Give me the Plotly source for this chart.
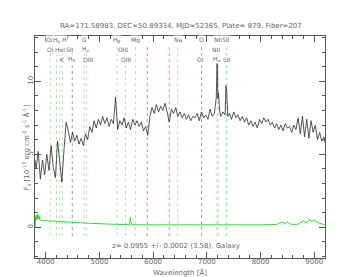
import plotly.graph_objects as go

# ---------------- data ----------------
title_text = "RA=171.58983, DEC=50.89334, MJD=52365, Plate= 879, Fiber=207"
z_text = "z= 0.0955 +/- 0.0002 (3.58), Galaxy"
redshift = 0.0955

wave = [3800, 3820, 3860, 3900, 3940, 3980, 4020, 4060, 4100, 4140, 4180, 4220, 4260, 4300,
        4340, 4380, 4420, 4460, 4500, 4540, 4580, 4620, 4660, 4700, 4740, 4780, 4820, 4860,
        4900, 4940, 4980, 5020, 5060, 5100, 5140, 5180, 5220, 5260, 5300, 5340, 5380, 5420,
        5460, 5500, 5540, 5580, 5620, 5660, 5700, 5740, 5780, 5820, 5860, 5900, 5940, 5980,
        6020, 6060, 6100, 6140, 6180, 6220, 6260, 6300, 6340, 6380, 6420, 6460, 6500, 6540,
        6580, 6620, 6660, 6700, 6740, 6780, 6820, 6860, 6900, 6940, 6980, 7020, 7060, 7100,
        7140, 7160, 7176, 7192, 7206, 7216, 7240, 7260, 7300, 7340, 7356, 7372, 7390, 7420,
        7460, 7500, 7540, 7580, 7620, 7660, 7700, 7740, 7780, 7820, 7860, 7900, 7940, 7980,
        8020, 8060, 8100, 8140, 8180, 8220, 8260, 8300, 8340, 8380, 8420, 8460, 8500, 8540,
        8580, 8620, 8660, 8700, 8740, 8780, 8820, 8860, 8900, 8940, 8980, 9020, 9060, 9100,
        9140, 9180, 9200]
flux = [4.6, 4.0, 5.2, 3.3, 4.6, 3.6, 5.0, 3.9, 5.6, 4.1, 3.4, 5.9, 4.5, 3.1,
        5.3, 7.2, 6.6, 5.8, 6.5, 5.9, 6.3, 5.7, 6.1, 5.6, 6.4, 6.0, 6.9, 6.5,
        7.3, 6.8, 7.4, 7.0, 7.6, 7.1, 7.5, 6.9, 7.4, 7.1, 8.9, 6.7, 7.3, 7.0,
        7.5, 6.8, 7.2, 6.7, 7.4, 7.0, 7.3, 6.9, 7.2, 6.6, 6.9, 6.3, 7.6, 8.2,
        7.8, 8.4, 7.9, 8.3, 8.0, 8.5, 7.9, 7.2, 8.1, 7.8, 8.2, 7.6, 7.9, 7.5,
        7.8, 7.4, 7.7, 7.3, 7.6, 7.5, 7.8, 7.3, 7.9, 7.5, 7.7, 7.4, 8.1, 7.6,
        7.8, 8.5, 8.9, 11.7, 8.8, 9.2, 7.9, 7.6, 7.9, 7.7, 9.7, 9.1, 7.6, 7.8,
        7.4, 7.9, 7.5, 7.7, 7.3, 7.6, 7.2, 7.5, 7.0, 7.3, 6.9, 7.2, 6.8, 7.4,
        7.1, 7.5, 7.2, 7.4, 7.0, 7.2, 6.8, 7.1, 6.7, 7.0, 6.6, 7.1, 6.8, 6.9,
        6.5, 7.0, 6.7, 7.5, 6.4, 7.6, 6.2, 7.4, 6.1, 7.3, 6.5, 7.0, 6.0, 6.5,
        5.9, 6.2, 5.8]

err_wave = [3800, 3806, 3815, 3825, 3835, 3845, 3855, 3865, 3875, 3890, 3950, 4100, 4300,
            4500, 4800, 5200, 5560, 5577, 5594, 6000, 7000, 8000, 8300, 8400, 8450, 8500,
            8550, 8600, 8700, 8800, 8850, 8900, 8950, 9000, 9050, 9100, 9200]
err = [0.0, 0.55, 0.8, 0.5, 0.85, 0.55, 0.9, 0.6, 0.8, 0.5, 0.45, 0.43, 0.38,
       0.33, 0.28, 0.22, 0.18, 0.7, 0.18, 0.17, 0.16, 0.17, 0.2, 0.35, 0.25, 0.38,
       0.22, 0.2, 0.22, 0.45, 0.3, 0.55, 0.4, 0.5, 0.35, 0.3, 0.15]

# rest-frame lines that are drawn (dotted verticals)
line_rest = [3727, 3835, 3889, 3934, 4102, 4304, 4341, 4861, 5007, 5175, 5894, 6300,
             6563, 6583, 6716, 6731]
line_kind = ["e", "e", "e", "e", "a", "e", "e", "e", "e", "e", "e", "a",
             "e", "e", "e", "e"]
# labels (rest wavelength, text, row)
label_rest = [3727, 3729, 3835, 3889, 3934, 3969, 4070, 4102, 4304, 4341, 4363, 4861,
              4959, 5007, 5175, 5894, 6300, 6280, 6548, 6563, 6583, 6716, 6731]
label_text = ["OII", "OI", "H<sub>η</sub>", "HeI", "K", "H", "SII", "H<sub>δ</sub>", "G",
              "H<sub>γ</sub>", "OIII", "H<sub>β</sub>", "OIII", "OIII", "Mg", "Na", "O", "OI",
              "NII", "H<sub>α</sub>", "NII", "SII", "SII"]
label_row = [1, 2, 1, 2, 3, 1, 2, 3, 1, 2, 3, 1, 2, 3, 1, 1, 1, 3, 2, 3, 1, 1, 3]
sky_lines = [5891, 6300]

# ---------------- figure ----------------
FONT = "DejaVu Sans"
TXT = "#666666"
fig = go.Figure()
fig.add_trace(go.Scatter(x=err_wave, y=err, mode="lines",
                         line=dict(color="#33dd33", width=1), hoverinfo="skip"))
fig.add_trace(go.Scatter(x=wave, y=flux, mode="lines",
                         line=dict(color="#2a2a2a", width=0.8), hoverinfo="skip"))

row_label_y = {1: 12.85, 2: 12.2, 3: 11.5}
kind_color = {"e": "#a6eea6", "a": "#a0a0a0"}
for lam, kind in zip(line_rest, line_kind):
    xo = lam * (1 + redshift)
    fig.add_shape(type="line", xref="x", yref="y", x0=xo, x1=xo, y0=-0.6, y1=12.5,
                  line=dict(color=kind_color[kind], width=1, dash="dot"), layer="below")
for lam, lab, row in zip(label_rest, label_text, label_row):
    xo = lam * (1 + redshift)
    fig.add_annotation(x=xo, y=row_label_y[row], xref="x", yref="y", text=lab, showarrow=False,
                       borderpad=0, bgcolor="white", font=dict(size=6, color=TXT, family=FONT))
for lam in sky_lines:
    fig.add_shape(type="line", xref="x", yref="y", x0=lam, x1=lam, y0=-0.6, y1=12.5,
                  line=dict(color="#f07ad8", width=1, dash="dot"), layer="below")

fig.add_annotation(x=0.503, y=1.068, xref="paper", yref="paper", text=title_text, showarrow=False,
                   borderpad=0, font=dict(size=7, color=TXT, family=FONT))
fig.add_annotation(x=0.262, y=0.032, xref="paper", yref="paper", text=z_text, showarrow=False,
                   borderpad=0, xanchor="left", font=dict(size=7, color=TXT, family=FONT))
fig.add_annotation(x=0.5, y=-0.088, xref="paper", yref="paper", text="Wavelength [Å]",
                   borderpad=0, showarrow=False, font=dict(size=7, color=TXT, family=FONT))
fig.add_annotation(x=-0.05, y=0.495, xref="paper", yref="paper", textangle=-90,
                   text="F<sub>λ</sub> [10<sup>-17</sup> erg cm<sup>-2</sup> s<sup>-1</sup> Å<sup>-1</sup>]",
                   borderpad=0, showarrow=False, font=dict(size=7, color=TXT, family=FONT))

fig.update_layout(
    width=346, height=277,
    margin=dict(l=27, r=29, t=28, b=27),
    paper_bgcolor="white", plot_bgcolor="white",
    showlegend=False,
    font=dict(family=FONT, size=7, color=TXT),
)
fig.update_xaxes(range=[3800, 9200], showgrid=False, zeroline=False,
                 showline=True, linecolor="#555555", linewidth=1, mirror="ticks",
                 ticks="inside", ticklen=6, tickcolor="#555555", dtick=1000, tick0=0,
                 minor=dict(ticks="inside", ticklen=3, dtick=200, tickcolor="#555555"),
                 ticklabelstandoff=-3,
                 tickfont=dict(size=7, color=TXT, family=FONT))
fig.update_yaxes(range=[-2.1, 13.1], showgrid=False, zeroline=False,
                 showline=True, linecolor="#555555", linewidth=1, mirror="ticks",
                 ticks="inside", ticklen=6, tickcolor="#555555", dtick=5, tick0=0,
                 minor=dict(ticks="inside", ticklen=3, dtick=1, tickcolor="#555555"),
                 tickangle=-90, ticklabelstandoff=-2,
                 tickfont=dict(size=7, color=TXT, family=FONT))

fig.write_html("out.html")
